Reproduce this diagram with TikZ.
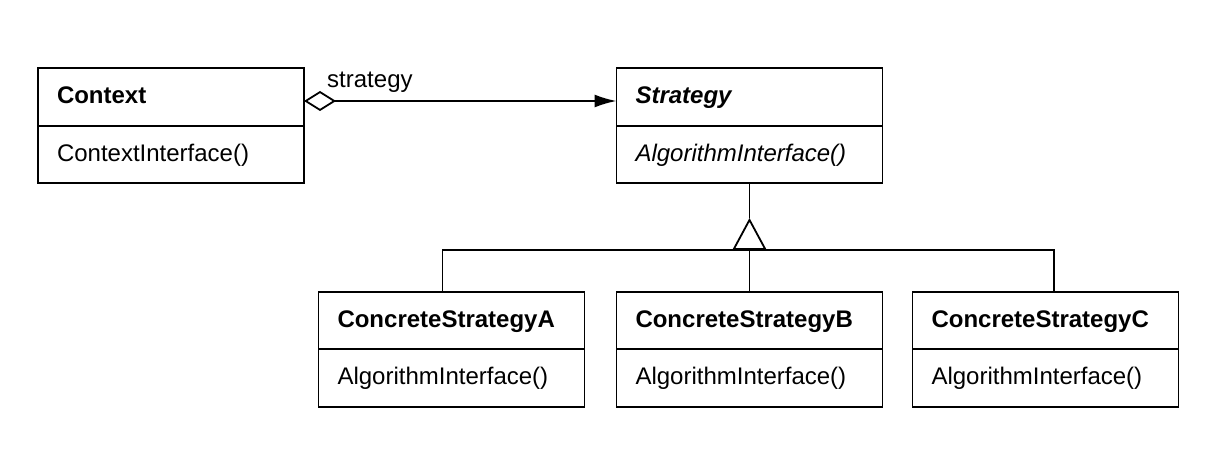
\documentclass[tikz,border=0pt]{standalone}
\usepackage{fontspec}
\setmainfont{Liberation Sans}
\usetikzlibrary{positioning,arrows.meta}

\tikzset{
  cls/.style={draw, line width=1.6pt, outer sep=0pt, minimum width=266pt, minimum height=57.5pt,
    text width=228pt, inner xsep=19pt, align=left, text height=17.5pt, text depth=4pt,
    font=\fontsize{24}{28}\selectfont\bfseries},
  ops/.style={cls, font=\fontsize{24}{28}\selectfont},
  conn/.style={line width=1.8pt},
  gen/.style={conn, -{Triangle[open, length=32pt, width=34pt]}},
  assoc/.style={conn, {Diamond[open, length=32pt, width=20pt]}-{Latex[length=22pt, width=13pt]}}
}

\begin{document}
\begin{tikzpicture}[x=1pt, y=-1pt]
\useasboundingbox (0, 0) rectangle (1221, 465);

\node [cls] (ctx) at (171, 97) {Context};
\node [ops, below=0pt of ctx] (ctxop) {ContextInterface()};

\node [cls] (str) at (749.5, 97) {\itshape Strategy};
\node [ops, below=0pt of str] (strop) {\itshape AlgorithmInterface()};

\node [cls] (csa) at (451.5, 320.5) {ConcreteStrategyA};
\node [ops, below=0pt of csa] (csaop) {AlgorithmInterface()};
\node [cls] (csb) at (749.5, 320.5) {ConcreteStrategyB};
\node [ops, below=0pt of csb] (csbop) {AlgorithmInterface()};
\node [cls] (csc) at (1045.5, 320.5) {ConcreteStrategyC};
\node [ops, below=0pt of csc] (cscop) {AlgorithmInterface()};

\draw [assoc] ([yshift=-4pt]ctx.east) -- ([yshift=-4pt]str.west)
  node [pos=0, anchor=base west, xshift=19pt, yshift=13pt, font=\fontsize{24}{28}\selectfont] {strategy};

\coordinate (apex) at (749.5, 218);
\coordinate (bus) at (749.5, 250);
\draw [conn] (strop.south) -- (apex);
\draw [gen] (csb.north) -- (apex);
\draw [conn] ([xshift=-9pt]csa.north) |- (bus) -| ([xshift=8.5pt]csc.north);
\end{tikzpicture}
\end{document}
